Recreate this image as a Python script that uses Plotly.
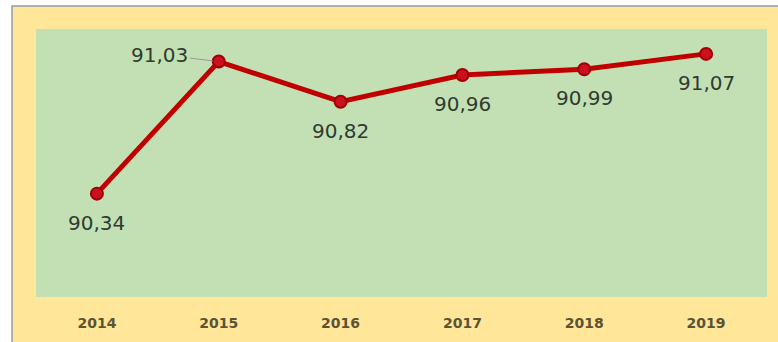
import plotly.graph_objects as go

# Yearly index values
years = ["2014", "2015", "2016", "2017", "2018", "2019"]
values = [90.34, 91.03, 90.82, 90.96, 90.99, 91.07]
labels = [f"{v:.2f}".replace(".", ",") for v in values]

W, H = 778, 342
L, R, T, B = 36, 11, 29, 45
pw, ph = W - L - R, H - T - B


def px_x(px):
    return (px - L) / pw


def px_y(py):
    return (H - B - py) / ph


fig = go.Figure()
fig.add_trace(go.Scatter(
    x=years, y=values, mode="lines+markers",
    line=dict(color="#C00000", width=5),
    marker=dict(size=12, color="#CC1020", line=dict(color="#A00000", width=2)),
    hoverinfo="skip",
))

label_font = dict(family="DejaVu Sans", size=20, color="#2F3B30")

# Value labels under the points (the 2015 one sits to the left with a leader).
# Category positions are given by index so the year strings are not read as numbers.
for i, (yr, v, t) in enumerate(zip(years, values, labels)):
    if yr == "2015":
        fig.add_annotation(
            xref="x", yref="y", x=i, y=v, text=t, showarrow=True,
            arrowhead=0, arrowcolor="#9a9a9a", arrowwidth=1,
            ax=-59, ay=-7, standoff=6, font=label_font,
        )
    else:
        fig.add_annotation(
            xref="x", yref="y", x=i, y=v, text=t, showarrow=False,
            yshift=-29, font=label_font,
        )

# Yellow frame with thin outline, then the green plot panel on top of it
fig.add_shape(type="rect", xref="paper", yref="paper",
              x0=px_x(12), x1=px_x(W + 5), y0=px_y(H + 5), y1=px_y(6),
              fillcolor="#FFE699", line=dict(color="#8E9DB4", width=1.5),
              layer="below")
fig.add_shape(type="rect", xref="paper", yref="paper",
              x0=0, x1=1, y0=0, y1=1,
              fillcolor="#C3E0B4", line=dict(width=0), layer="below")

fig.update_layout(
    width=W, height=H,
    margin=dict(l=L, r=R, t=T, b=B),
    paper_bgcolor="white",
    plot_bgcolor="#C3E0B4",
    showlegend=False,
    xaxis=dict(
        type="category", range=[-0.5, 5.5], showgrid=False, zeroline=False,
        showline=False, ticks="", ticklabelstandoff=16,
        tickfont=dict(family="DejaVu Sans", size=14, color="#5B5335", weight="bold"),
    ),
    yaxis=dict(range=[89.80, 91.20], showgrid=False, zeroline=False,
               showticklabels=False, showline=False, ticks=""),
)

fig.write_html("out.html")
